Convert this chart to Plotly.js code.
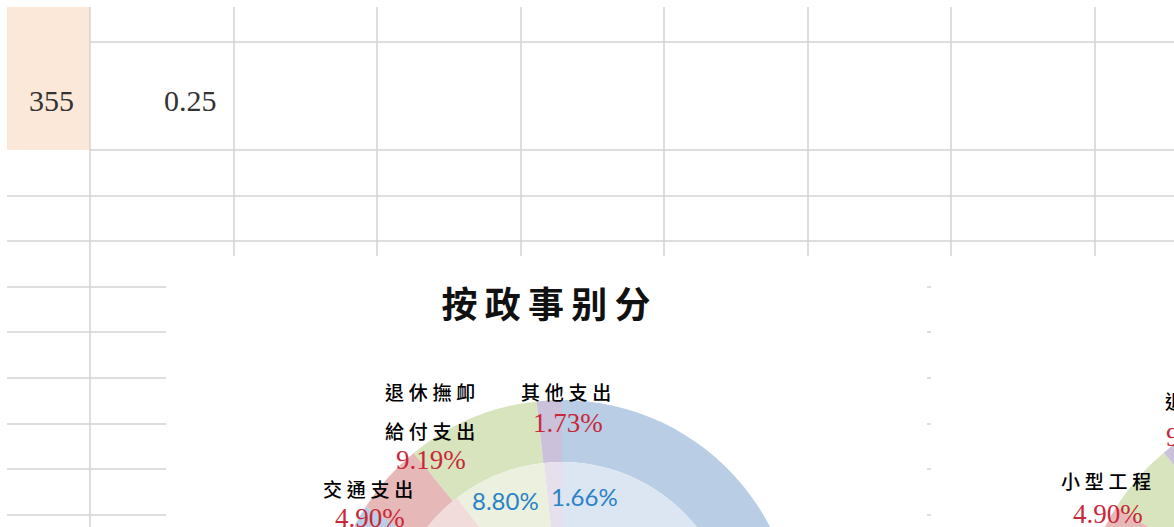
<!DOCTYPE html>
<html><head><meta charset="utf-8">
<script src="https://cdn.plot.ly/plotly-3.0.1.min.js"></script>
<style>
html,body{margin:0;padding:0;background:#fff;overflow:hidden;}
#wrap{position:relative;width:1174px;height:527px;overflow:hidden;background:#fff;}
#plot{position:absolute;left:0;top:0;width:1600px;height:900px;}
</style>
</head><body><div id="wrap"><div id="plot"></div></div>
<script>
// ---- spreadsheet cells ----
const cellValues = ['355', '0.25'];

// ---- chart 1: 按政事别分 ----
const chart1Title = '按政事别分';
const ring1Labels = ['其餘', '交通支出', '退休撫卹給付支出', '其他支出'];
const ring1Outer = [84.18, 4.90, 9.19, 1.73];
const ring1Inner = [84.44, 5.10, 8.80, 1.66];

// ---- chart 2 (partly visible at the right edge) ----
const ring2Labels = ['其餘', '其他', '小型工程', '退休撫卹給付支出'];
const ring2Outer = [78.0, 6.0, 4.90, 11.10];
const ring2PctText = ['', '', '4.90%', '9.19%'];

const outerColors = ['#b9cde5', '#e6b9b8', '#d7e4bd', '#ccc1da'];
const innerColors = ['#dce6f2', '#f2dcdb', '#ebf1de', '#e5e0ec'];

const W = 1600, H = 900;
const fx = x => x / W, fy = y => 1 - y / H;
function dom(cx, cy, r) { return {x: [fx(cx - r), fx(cx + r)], y: [fy(cy + r), fy(cy - r)]}; }
const pct = v => v.toFixed(2) + '%';
const sp = s => s.split('').join('\u2005');

const C1 = {cx: 562, cy: 634, R: 234, r1: 172, r0: 92};
const C2 = {cx: 1314, cy: 632, R: 234, r1: 172};

const pieBase = {type: 'pie', sort: false, direction: 'clockwise', rotation: 0,
  textinfo: 'none', hoverinfo: 'skip', showlegend: false};

const data = [
  Object.assign({}, pieBase, {labels: ring1Labels, values: ring1Outer,
    marker: {colors: outerColors, line: {width: 0}}, hole: C1.r1 / C1.R, domain: dom(C1.cx, C1.cy, C1.R)}),
  Object.assign({}, pieBase, {labels: ring1Labels, values: ring1Inner,
    marker: {colors: innerColors, line: {width: 0}}, hole: C1.r0 / C1.r1, domain: dom(C1.cx, C1.cy, C1.r1)}),
  Object.assign({}, pieBase, {labels: ring2Labels, values: ring2Outer,
    marker: {colors: outerColors, line: {width: 0}}, hole: C2.r1 / C2.R, domain: dom(C2.cx, C2.cy, C2.R)})
];

// ---- grid of the sheet ----
const gridCol = '#d3d3d3';
const shapes = [];
function line(x0, y0, x1, y1) {
  shapes.push({type: 'line', xref: 'paper', yref: 'paper', layer: 'below',
    x0: fx(x0), y0: fy(y0), x1: fx(x1), y1: fy(y1), line: {color: gridCol, width: 1.5}});
}
function rect(x0, y0, x1, y1, col) {
  shapes.push({type: 'rect', xref: 'paper', yref: 'paper', layer: 'below',
    x0: fx(x0), y0: fy(y0), x1: fx(x1), y1: fy(y1), line: {width: 0}, fillcolor: col});
}
rect(7, 7, 90, 150, '#fce8d9');
const colX = [234, 377, 521, 664, 808, 951, 1095];
line(90, 42, W, 42);
line(90, 150, W, 150);
[196, 241, 287, 332, 378, 424, 469, 515].forEach(y => line(7, y, W, y));
colX.forEach(x => line(x, 7, x, H));
line(90, 7, 90, H);
// chart areas cover the sheet
rect(166, 256, 927, H, '#ffffff');
rect(931, 256, W, H, '#ffffff');

// ---- texts ----
const ann = [];
function txt(x, y, t, font, xa) {
  ann.push({xref: 'paper', yref: 'paper', x: fx(x), y: fy(y), text: t, showarrow: false,
    xanchor: xa || 'center', yanchor: 'middle', font: font});
}
const cellFont = {family: 'Liberation Serif', size: 30, color: '#333333'};
txt(76, 100, cellValues[0], cellFont, 'right');
txt(219, 100, cellValues[1], cellFont, 'right');

const catFont = {family: 'Noto Sans CJK TC', size: 19, color: '#000000', weight: 500};
const redFont = {family: 'Liberation Serif', size: 27, color: '#c8283a'};
const blueFont = {family: 'Lato', size: 24, color: '#2a82c8'};

// chart 1 labels
txt(566, 392, sp(ring1Labels[3]), catFont);
txt(568, 423, pct(ring1Outer[3]), redFont);
txt(430, 392, sp(ring1Labels[2].slice(0, 4)), catFont);
txt(430, 430, sp(ring1Labels[2].slice(4)), catFont);
txt(431, 460, pct(ring1Outer[2]), redFont);
txt(368, 488, sp(ring1Labels[1]), catFont);
txt(370, 518, pct(ring1Outer[1]), redFont);
txt(506, 500, pct(ring1Inner[2]), blueFont);
txt(584, 497, pct(ring1Inner[3]), blueFont);

// chart 2 labels
txt(1106, 480, sp(ring2Labels[2]), catFont);
txt(1108, 514, ring2PctText[2], redFont);
txt(1163, 400, sp(ring2Labels[3].slice(0, 4)), catFont, 'left');
txt(1164, 437, ring2PctText[3], redFont, 'left');

const layout = {
  width: W, height: H, margin: {l: 0, r: 0, t: 0, b: 0},
  paper_bgcolor: '#ffffff', plot_bgcolor: '#ffffff',
  title: {text: chart1Title.split('').join('\u2009'), xref: 'paper', yref: 'paper',
    x: fx(546), y: fy(305), xanchor: 'center', yanchor: 'middle',
    font: {family: 'Noto Sans CJK SC', size: 36, color: '#111111', weight: 700}},
  shapes: shapes, annotations: ann, showlegend: false
};
Plotly.newPlot('plot', data, layout, {staticPlot: true, displayModeBar: false});
</script></body></html>
